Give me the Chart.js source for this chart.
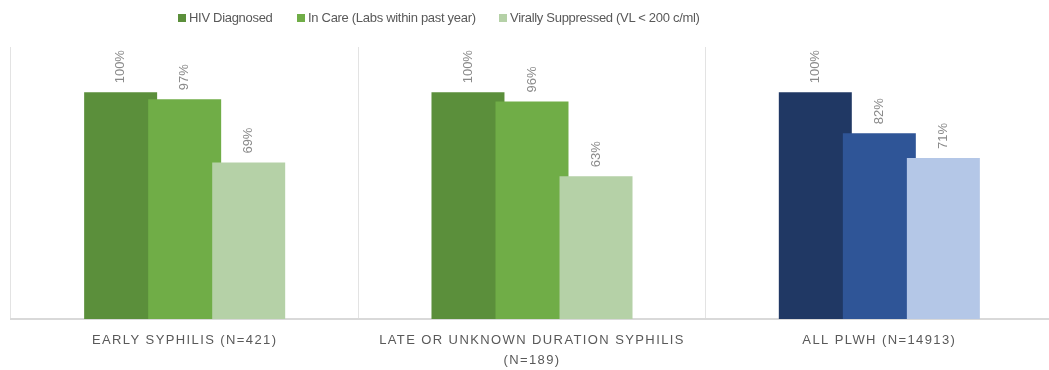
<!DOCTYPE html>
<html>
<head>
<meta charset="utf-8">
<script src="https://cdn.jsdelivr.net/npm/chart.js@4/dist/chart.umd.min.js"></script>
<style>
  html, body { margin: 0; padding: 0; background: #fff; overflow: hidden; }
  #wrap { position: absolute; left: 0; top: 0; width: 1056px; height: 381px; }
  #legend {
    position: absolute; left: 178px; top: 10px; height: 16px;
    font-family: "Liberation Sans", Arial, sans-serif; font-size: 13px; color: #595959; letter-spacing: -0.3px;
  }
  #legend .item { position: absolute; top: 0; display: flex; align-items: center; white-space: nowrap; line-height: 16px; }
  #legend .box { width: 8px; height: 8px; margin-right: 3px; }
</style>
</head>
<body>
<div id="wrap"><canvas id="careChart"></canvas></div>
<div id="legend"></div>
<script>
// Continuum of care by syphilis stage vs. all people living with HIV

const categories = [
    'EARLY SYPHILIS (N=421)',
    ['LATE OR UNKNOWN DURATION SYPHILIS', '(N=189)'],
    'ALL PLWH (N=14913)'
];
const seriesNames = ['HIV Diagnosed', 'In Care (Labs within past year)', 'Virally Suppressed (VL < 200 c/ml)'];
const diagnosed = [100, 100, 100];
const inCare = [97, 96, 82];
const suppressed = [69, 63, 71];

// syphilis groups are green, the overall PLWH group is blue
const greens = ['#5b8f3b', '#70ad47', '#b5d1a7'];
const blues = ['#203864', '#2f5597', '#b4c7e7'];

const values = [diagnosed, inCare, suppressed];

const datasets = seriesNames.map((name, i) => ({
    label: name,
    data: values[i],
    backgroundColor: [greens[i], greens[i], blues[i]],
    borderWidth: 0,
    categoryPercentage: 0.553,
    barPercentage: 1.14
}));

// draw bars left to right so each one overlaps its left neighbour
const drawInOrder = {
    id: 'drawInOrder',
    beforeDatasetsDraw(chart) {
        chart.getSortedVisibleDatasetMetas().forEach(meta => meta.controller.draw());
        return false;
    }
};

// spaced-out axis captions, then rotated value labels above the bars
const textStyle = {
    id: 'textStyle',
    beforeDraw(chart) {
        chart.ctx.letterSpacing = '1.4px';
    },
    afterDraw(chart) {
        const ctx = chart.ctx;
        ctx.letterSpacing = '0px';
        ctx.save();
        ctx.fillStyle = '#8a8a8a';
        ctx.font = '13px "Liberation Sans", Arial, sans-serif';
        ctx.textAlign = 'left';
        ctx.textBaseline = 'middle';
        chart.data.datasets.forEach((ds, i) => {
            chart.getDatasetMeta(i).data.forEach((bar, j) => {
                ctx.save();
                ctx.translate(bar.x, bar.y - 9);
                ctx.rotate(-Math.PI / 2);
                ctx.fillText(ds.data[j] + '%', 0, 0);
                ctx.restore();
            });
        });
        ctx.restore();
    }
};

const ctx = document.getElementById('careChart').getContext('2d');
new Chart(ctx, {
    type: 'bar',
    data: { labels: categories, datasets: datasets },
    options: {
        responsive: true,
        maintainAspectRatio: false,
        animation: false,
        layout: { padding: { left: 11, top: 47, right: 3, bottom: 0 } },
        plugins: {
            legend: { display: false },
            tooltip: { enabled: false }
        },
        scales: {
            x: {
                grid: { color: '#e3e3e3', drawTicks: false, offset: true },
                border: { color: '#d9d9d9', width: 2 },
                ticks: {
                    color: '#595959',
                    maxRotation: 0,
                    autoSkip: false,
                    padding: 11,
                    font: { family: '"Liberation Sans", Arial, sans-serif', size: 13, lineHeight: '20px' }
                }
            },
            y: { display: false, min: 0, max: 120 }
        }
    },
    plugins: [drawInOrder, textStyle]
});

// legend row, one entry per series
const legendStarts = [0, 119, 321];
const legend = document.getElementById('legend');
seriesNames.forEach((name, i) => {
    const item = document.createElement('div');
    item.className = 'item';
    item.style.left = legendStarts[i] + 'px';
    const box = document.createElement('span');
    box.className = 'box';
    box.style.background = greens[i];
    const label = document.createElement('span');
    label.textContent = name;
    item.appendChild(box);
    item.appendChild(label);
    legend.appendChild(item);
});
</script>
</body>
</html>
